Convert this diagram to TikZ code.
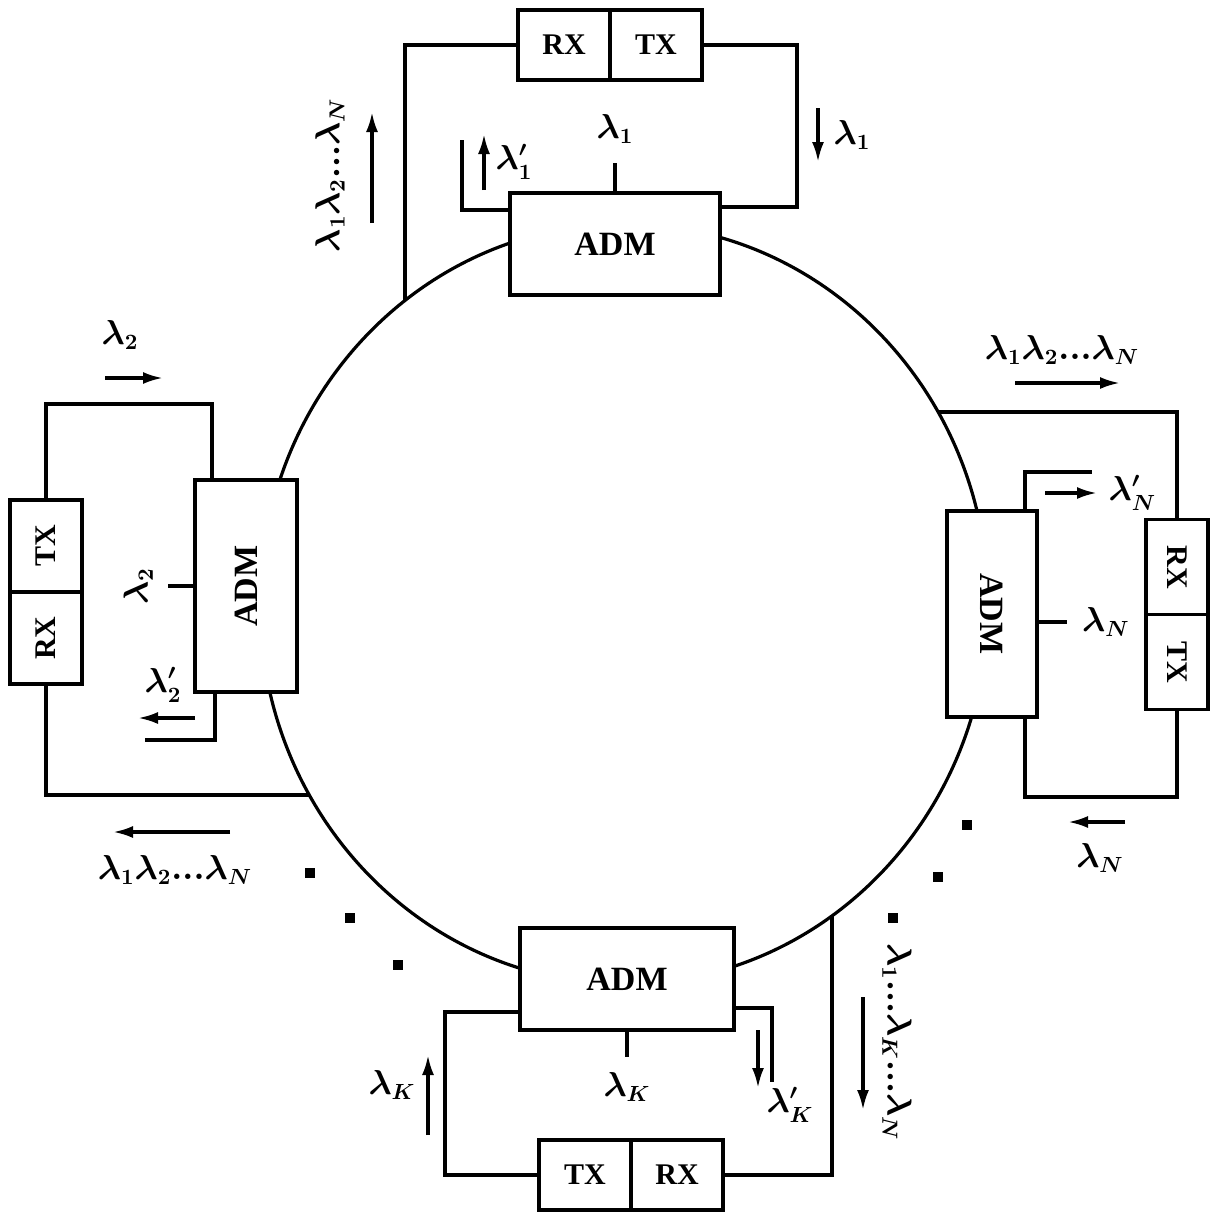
\documentclass[tikz,border=0pt]{standalone}
\usepackage{fontspec}
\setmainfont{Liberation Serif}
\usetikzlibrary{arrows.meta, positioning}

\begin{document}
\begin{tikzpicture}[
    x=0.5pt, y=-0.5pt,
    font=\fontsize{15}{18}\selectfont\bfseries,
    adm/.style  = {rectangle, draw, fill=white, line width=1.6pt, inner sep=0pt,
                   minimum width=105pt, minimum height=51pt,
                   font=\fontsize{17}{20}\selectfont\bfseries},
    cell/.style = {rectangle, draw, line width=1.6pt, inner sep=0pt, outer sep=0pt,
                   minimum width=46pt, minimum height=35pt},
    wire/.style = {line width=1.6pt},
    flow/.style = {-{Latex[length=10pt, width=6pt]}, line width=1.6pt},
    lam/.style  = {font=\fontsize{16}{19}\selectfont\boldmath, inner sep=1pt},
]
\useasboundingbox (0,0) rectangle (1220,1216);

% ---------------- ring ----------------
\draw[wire] (624,604) ellipse [x radius=182pt, y radius=190pt];
\coordinate (j1) at (405,300);
\coordinate (j2) at (938,412);
\coordinate (j3) at (309,795);
\coordinate (j4) at (832,916);

% ---------------- node 1 (top) ----------------
\node[adm] (adm1) at (615,244) {ADM};
\node[cell] (rx1) at (564,45) {RX};
\node[cell, right=0pt of rx1] (tx1) {TX};
\coordinate (k1) at (797,207);
\coordinate (k2) at (462,210);
\draw[wire] (rx1.west) -| (j1);
\draw[wire] (tx1.east) -| (k1) -- (k1 -| adm1.east);
\draw[wire] (adm1.north) -- ++(0,-28) node[lam, above=8pt] (l1) {$\lambda_1$};
\draw[wire] (k2 -| adm1.west) -- (k2) -- ++(0,-70);
\draw[flow] (484,190) -- (484,134) node[lam, midway, right=4pt] (l1p) {$\lambda'_1$};
\draw[flow] (818,108) -- (818,162) node[lam, midway, right=6pt] (l1d) {$\lambda_1$};
\draw[flow] (372,223) -- (372,112);
\node[lam] (all1) at (330,175) {\rotatebox{90}{$\lambda_1\lambda_2...\lambda_N$}};

% ---------------- node N (right) ----------------
\node[adm, minimum width=45pt, minimum height=103pt] (adm2) at (992,614) {\rotatebox{-90}{ADM}};
\node[cell, minimum width=31pt, minimum height=47.5pt] (rx2) at (1177,567) {\rotatebox{-90}{RX}};
\node[cell, minimum width=31pt, minimum height=47.5pt, below=0pt of rx2] (tx2) {\rotatebox{-90}{TX}};
\coordinate (k3) at (1025,797);
\coordinate (k4) at (1025,472);
\draw[wire] (j2) -| (rx2.north);
\draw[wire] (tx2.south) |- (k3) -- (k3 |- adm2.south);
\draw[wire] (k4 |- adm2.north) -- (k4) -- ++(67,0);
\draw[wire] ([yshift=-4pt]adm2.east) -- ++(28,0) node[lam, right=6pt] (lN) {$\lambda_N$};
\draw[flow] (1045,493) -- (1097,493) node[lam, right=4pt] (lNp) {$\lambda'_N$};
\draw[flow] (1015,383) -- (1120,383);
\node[lam] (allN) at (1062,350) {$\lambda_1\lambda_2...\lambda_N$};
\draw[flow] (1125,822) -- (1068,822);
\node[lam] (lNd) at (1100,858) {$\lambda_N$};

% ---------------- node 2 (left) ----------------
\node[adm, minimum width=51pt, minimum height=106pt] (adm3) at (246,586) {\rotatebox{90}{ADM}};
\node[cell, minimum width=36pt, minimum height=46pt] (tx3) at (46,546) {\rotatebox{90}{TX}};
\node[cell, minimum width=36pt, minimum height=46pt, below=0pt of tx3] (rx3) {\rotatebox{90}{RX}};
\coordinate (k5) at (212,404);
\coordinate (k6) at (215,740);
\draw[wire] (tx3.north) |- (k5) -- (k5 |- adm3.north);
\draw[wire] (rx3.south) |- (j3);
\draw[wire] (adm3.west) -- ++(-25,0) node[lam, left=6pt] (l2) {\rotatebox{90}{$\lambda_2$}};
\draw[wire] (k6 |- adm3.south) -- (k6) -- ++(-70,0);
\draw[flow] (195,718) -- (138,718);
\node[lam] (l2p) at (163,685) {$\lambda'_2$};
\draw[flow] (105,378) -- (163,378);
\node[lam] (l2t) at (120,335) {$\lambda_2$};
\draw[flow] (230,832) -- (113,832);
\node[lam] (all2) at (175,870) {$\lambda_1\lambda_2...\lambda_N$};

% ---------------- node K (bottom) ----------------
\node[adm, minimum width=107pt] (adm4) at (627,979) {ADM};
\node[cell] (tx4) at (585,1175) {TX};
\node[cell, right=0pt of tx4] (rx4) {RX};
\coordinate (k7) at (445,1012);
\coordinate (k8) at (772,1008);
\draw[wire] (tx4.west) -| (k7) -- (k7 -| adm4.west);
\draw[wire] (rx4.east) -| (j4);
\draw[wire] (adm4.south) -- ++(0,25) node[lam, below=6pt] (lK) {$\lambda_K$};
\draw[wire] (k8 -| adm4.east) -- (k8) -- ++(0,74);
\draw[flow] (758,1030) -- (758,1088);
\node[lam] (lKp) at (790,1105) {$\lambda'_K$};
\draw[flow] (428,1135) -- (428,1055);
\node[lam] (lKu) at (392,1085) {$\lambda_K$};
\draw[flow] (863,997) -- (863,1110);
\node[lam] (allK) at (897,1042) {\rotatebox{-90}{$\lambda_1...\lambda_K...\lambda_N$}};

% ---------------- further nodes ----------------
\foreach \p in {(310,873), (350,918), (398,965), (967,825), (938,877), (893,918)}
    \fill \p ++(-5,-5) rectangle ++(10,10);

\end{tikzpicture}
\end{document}
